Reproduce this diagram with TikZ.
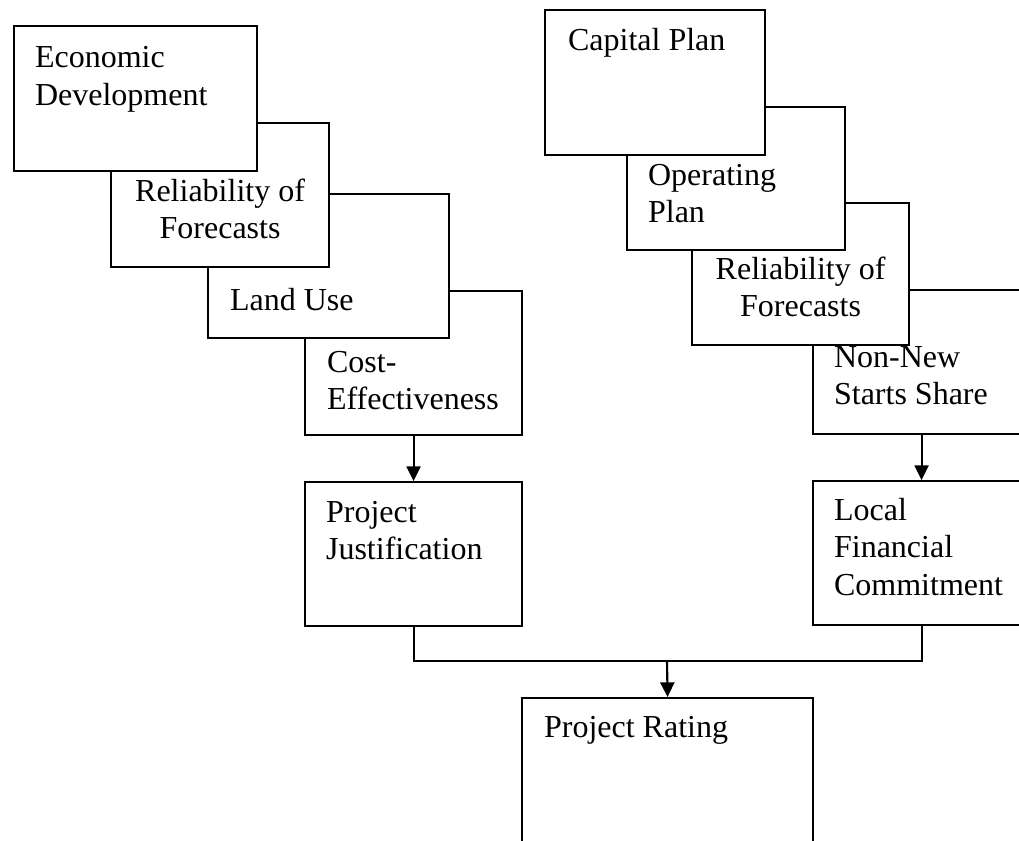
\documentclass[tikz,border=0pt]{standalone}
\usepackage{fontspec}
\setmainfont{Liberation Serif}
\usetikzlibrary{arrows.meta}

\tikzset{
	box/.style={draw, fill=white, anchor=north west, inner sep=0pt, minimum width=162.75pt, minimum height=108pt},
	txt/.style={anchor=base west, inner sep=0pt, align=left, font=\fontsize{24pt}{28.1pt}\selectfont},
	ctxt/.style={txt, anchor=base, align=center},
}

\begin{document}
\begin{tikzpicture}[x=.75pt, y=-.75pt, line width=1.6pt, >={Triangle[length=11pt, width=10.5pt]}]
		\useasboundingbox (0,0) rectangle (1019,840);
		\clip (0,0) rectangle (1019,840);
		
		% Pila izquierda
		\node[box] (costeff) at (304,290) {};
		\node[txt] at ([shift={(22,119.5)}]costeff.north west) {Cost-\\Effectiveness};
		\node[box, minimum width=180.75pt] (landuse) at (207,193) {};
		\node[txt] at ([shift={(22,117)}]landuse.north west) {Land Use};
		\node[box, minimum width=163.5pt] (relleft) at (110,122) {};
		\node[ctxt] at ([shift={(0,116.5)}]relleft.north) {Reliability of\\Forecasts};
		\node[box, minimum width=182.25pt, minimum height=108.75pt] (econ) at (13,25) {};
		\node[txt] at ([shift={(21,80)}]econ.north west) {Economic\\Development};
		
		% Pila derecha
		\node[box] (nonnew) at (812,289) {};
		\node[txt] at ([shift={(21,115.5)}]nonnew.north west) {Non-New\\Starts Share};
		\node[box, minimum height=106.5pt] (relright) at (691,202) {};
		\node[ctxt] at ([shift={(0,114.5)}]relright.north) {Reliability of\\Forecasts};
		\node[box, minimum width=163.5pt, minimum height=107.25pt] (operating) at (626,106) {};
		\node[txt] at ([shift={(21,116.5)}]operating.north west) {Operating\\Plan};
		\node[box, minimum width=165pt, minimum height=108.75pt] (capital) at (544,9) {};
		\node[txt] at ([shift={(23,41)}]capital.north west) {Capital Plan};
		
		% Criterios
		\node[box] (justif) at (304,481) {};
		\node[txt] at ([shift={(21,78.5)}]justif.north west) {Project\\Justification};
		\node[box] (localfin) at (812,480) {};
		\node[txt] at ([shift={(21,115)}]localfin.north west) {Local\\Financial\\Commitment};
		
		% Calificación
		\node[box, minimum width=218.25pt, minimum height=150pt] (rating) at (521,697) {};
		\node[txt] at ([shift={(22,40)}]rating.north west) {Project Rating};
		
		% Flechas
		\draw[->] (costeff.south) -- (justif.north);
		\draw[->] (nonnew.south) -- (localfin.north);
		\coordinate (join) at (667,661);
		\draw (justif.south) |- (join) -| (localfin.south);
		\draw[->] (join) -- (rating.north);
	\end{tikzpicture}
\end{document}
